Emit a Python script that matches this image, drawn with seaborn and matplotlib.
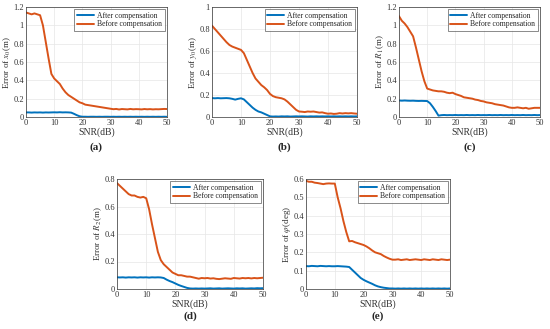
import numpy as np
import pandas as pd
import seaborn as sns
import matplotlib.pyplot as plt

snr = list(range(0, 51))

# (a) error of x0
a_after = [0.050, 0.050, 0.048, 0.050, 0.049, 0.050, 0.048, 0.050, 0.049, 0.050,
           0.051, 0.050, 0.052, 0.050, 0.051, 0.050, 0.048, 0.035, 0.020, 0.008,
           0.003, 0.003, 0.002, 0.003, 0.003, 0.002, 0.003, 0.002, 0.003, 0.003,
           0.002, 0.003, 0.002, 0.003, 0.002, 0.003, 0.002, 0.003, 0.002, 0.003,
           0.002, 0.003, 0.002, 0.003, 0.002, 0.003, 0.002, 0.003, 0.002, 0.003, 0.002]
a_before = [1.14, 1.13, 1.12, 1.13, 1.12, 1.11, 1.00, 0.82, 0.64, 0.47,
            0.42, 0.39, 0.36, 0.31, 0.27, 0.24, 0.22, 0.20, 0.18, 0.16,
            0.15, 0.135, 0.13, 0.125, 0.12, 0.115, 0.11, 0.105, 0.10, 0.095,
            0.09, 0.085, 0.088, 0.082, 0.087, 0.085, 0.083, 0.088, 0.084, 0.086,
            0.085, 0.083, 0.087, 0.084, 0.086, 0.083, 0.085, 0.084, 0.086, 0.088, 0.087]

# (b) error of y0
b_after = [0.172, 0.170, 0.172, 0.170, 0.171, 0.172, 0.170, 0.165, 0.158, 0.165,
           0.170, 0.160, 0.135, 0.110, 0.085, 0.065, 0.050, 0.042, 0.030, 0.018,
           0.006, 0.004, 0.005, 0.004, 0.006, 0.005, 0.006, 0.004, 0.005, 0.006,
           0.005, 0.006, 0.005, 0.004, 0.006, 0.005, 0.006, 0.005, 0.006, 0.005,
           0.006, 0.005, 0.006, 0.005, 0.006, 0.005, 0.006, 0.005, 0.006, 0.005, 0.006]
b_before = [0.83, 0.80, 0.77, 0.74, 0.71, 0.68, 0.655, 0.64, 0.63, 0.62,
            0.61, 0.58, 0.52, 0.46, 0.40, 0.35, 0.32, 0.29, 0.27, 0.245,
            0.21, 0.19, 0.18, 0.175, 0.17, 0.16, 0.14, 0.115, 0.09, 0.065,
            0.05, 0.048, 0.045, 0.05, 0.048, 0.05, 0.045, 0.04, 0.042, 0.035,
            0.03, 0.032, 0.028, 0.03, 0.035, 0.032, 0.035, 0.033, 0.035, 0.032, 0.03]

# (c) error of R1
c_after = [0.180, 0.178, 0.180, 0.178, 0.177, 0.178, 0.176, 0.175, 0.176, 0.175,
           0.174, 0.150, 0.110, 0.065, 0.015, 0.020, 0.022, 0.020, 0.021, 0.020,
           0.022, 0.020, 0.021, 0.020, 0.022, 0.020, 0.021, 0.020, 0.022, 0.020,
           0.021, 0.020, 0.022, 0.020, 0.021, 0.020, 0.022, 0.020, 0.021, 0.020,
           0.022, 0.020, 0.021, 0.020, 0.022, 0.020, 0.021, 0.020, 0.022, 0.020, 0.021]
c_before = [1.10, 1.05, 1.02, 0.98, 0.93, 0.88, 0.76, 0.63, 0.50, 0.39,
            0.31, 0.30, 0.29, 0.285, 0.28, 0.28, 0.275, 0.265, 0.26, 0.265,
            0.25, 0.24, 0.23, 0.215, 0.21, 0.205, 0.20, 0.19, 0.185, 0.175,
            0.17, 0.16, 0.155, 0.15, 0.14, 0.135, 0.13, 0.125, 0.115, 0.105,
            0.10, 0.10, 0.105, 0.10, 0.095, 0.10, 0.09, 0.095, 0.10, 0.10, 0.10]

# (d) error of R2
d_after = [0.085, 0.084, 0.085, 0.083, 0.085, 0.084, 0.085, 0.083, 0.085, 0.084,
           0.085, 0.083, 0.085, 0.084, 0.085, 0.084, 0.080, 0.068, 0.058, 0.050,
           0.040, 0.030, 0.022, 0.015, 0.008, 0.004, 0.003, 0.004, 0.003, 0.004,
           0.003, 0.004, 0.005, 0.003, 0.004, 0.005, 0.003, 0.004, 0.005, 0.004,
           0.003, 0.005, 0.004, 0.005, 0.003, 0.004, 0.005, 0.004, 0.006, 0.005, 0.006]
d_before = [0.77, 0.75, 0.73, 0.71, 0.69, 0.68, 0.68, 0.67, 0.665, 0.67,
            0.66, 0.58, 0.47, 0.37, 0.27, 0.21, 0.18, 0.16, 0.14, 0.12,
            0.11, 0.10, 0.10, 0.095, 0.09, 0.09, 0.085, 0.08, 0.075, 0.08,
            0.078, 0.08, 0.076, 0.078, 0.074, 0.072, 0.075, 0.078, 0.076, 0.074,
            0.08, 0.078, 0.076, 0.08, 0.078, 0.08, 0.077, 0.08, 0.078, 0.08, 0.082]

# (e) error of phi
e_after = [0.125, 0.124, 0.126, 0.125, 0.124, 0.126, 0.125, 0.124, 0.125, 0.124,
           0.124, 0.125, 0.124, 0.123, 0.122, 0.120, 0.105, 0.090, 0.075, 0.060,
           0.050, 0.042, 0.035, 0.028, 0.020, 0.014, 0.010, 0.007, 0.005, 0.003,
           0.003, 0.002, 0.003, 0.002, 0.003, 0.002, 0.003, 0.002, 0.003, 0.002,
           0.003, 0.002, 0.003, 0.002, 0.003, 0.002, 0.003, 0.002, 0.003, 0.002, 0.003]
e_before = [0.59, 0.585, 0.585, 0.58, 0.578, 0.575, 0.572, 0.575, 0.576, 0.575,
            0.575, 0.50, 0.44, 0.37, 0.31, 0.26, 0.262, 0.255, 0.25, 0.245,
            0.24, 0.232, 0.222, 0.21, 0.20, 0.195, 0.19, 0.18, 0.172, 0.165,
            0.16, 0.16, 0.162, 0.158, 0.16, 0.162, 0.158, 0.16, 0.162, 0.16,
            0.158, 0.162, 0.16, 0.158, 0.162, 0.16, 0.158, 0.162, 0.16, 0.158, 0.16]

panels = [
    ("(a)", a_after, a_before, r"Error of $x_0$(m)", 1.2, 0.2),
    ("(b)", b_after, b_before, r"Error of $y_0$(m)", 1.0, 0.2),
    ("(c)", c_after, c_before, r"Error of $R_1$(m)", 1.2, 0.2),
    ("(d)", d_after, d_before, r"Error of $R_2$(m)", 0.8, 0.2),
    ("(e)", e_after, e_before, r"Error of $\varphi$(deg)", 0.6, 0.1),
]

# axes rectangles in pixels: left, right, top, bottom, tag y
rects = [(26, 167, 7, 117, 147), (212, 357, 7, 117, 147), (399, 540, 7, 117, 147),
         (117, 263, 179, 289, 316), (306, 450, 179, 289, 316)]

sns.set_style("whitegrid")
plt.rcParams['font.family'] = ['Liberation Serif', 'DejaVu Serif']
plt.rcParams['mathtext.fontset'] = 'stix'

W, H = 550, 329
fig = plt.figure(figsize=(W / 100, H / 100), dpi=100)
palette = {"After compensation": "#0072BD", "Before compensation": "#D95319"}

for (tag, after, before, ylab, ymax, ystep), (l, r, t, b, ty) in zip(panels, rects):
    ax = fig.add_axes([l / W, 1 - b / H, (r - l) / W, (b - t) / H])
    df = pd.DataFrame({
        "SNR": snr * 2,
        "err": after + before,
        "kind": ["After compensation"] * len(snr) + ["Before compensation"] * len(snr),
    })
    sns.lineplot(data=df, x="SNR", y="err", hue="kind", palette=palette,
                 linewidth=1.4, ax=ax)
    ax.set_xlim(0, 50)
    ax.set_ylim(0, ymax)
    ax.set_xticks(range(0, 51, 10))
    yt = np.round(np.arange(0, ymax + 1e-9, ystep), 2)
    ax.set_yticks(yt)
    ax.set_yticklabels([f"{v:g}" for v in yt])
    ax.tick_params(labelsize=6, colors="#333333", length=2, direction="in", pad=1.5)
    ax.grid(True, color="#e6e6e6", linewidth=0.5)
    for s in ax.spines.values():
        s.set_color("#333333")
        s.set_linewidth(0.5)
    ax.set_xlabel("SNR(dB)", fontsize=7, labelpad=0, color="#333333")
    ax.set_ylabel(ylab, fontsize=6.5, labelpad=0, color="#333333")
    leg = ax.legend(loc="upper right", fontsize=5.5, frameon=True, fancybox=False,
                    handlelength=2.2, borderpad=0.3, labelspacing=0.1,
                    handletextpad=0.5, borderaxespad=0.3)
    leg.get_frame().set_edgecolor("#333333")
    leg.get_frame().set_linewidth(0.5)
    fig.text((l + r) / 2 / W, 1 - ty / H, tag, ha="center", va="center",
             fontsize=8, fontweight="bold")

fig.savefig("out.png", dpi=100)
